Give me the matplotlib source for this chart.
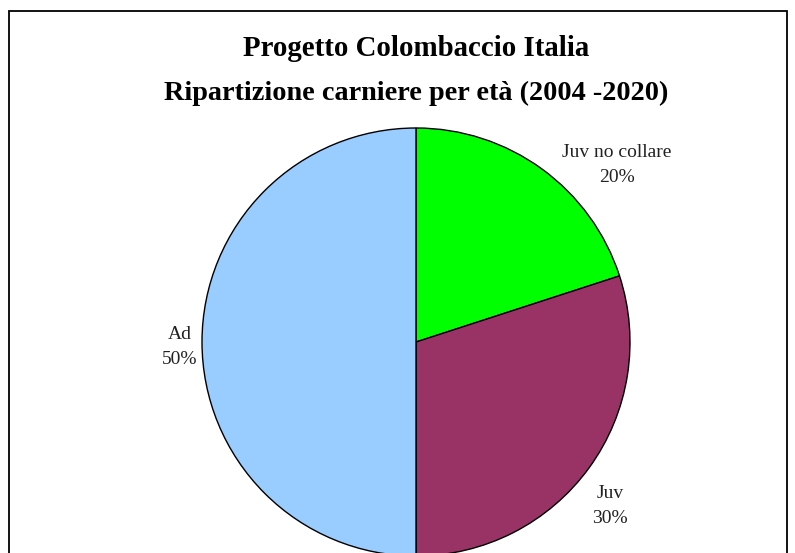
import matplotlib
matplotlib.use("Agg")
import matplotlib.pyplot as plt
from matplotlib.patches import Rectangle

categories = ["Juv no collare", "Juv", "Ad"]
values = [20, 30, 50]
colors = ["#00FF00", "#993366", "#99CCFF"]
title_lines = ["Progetto Colombaccio Italia", "Ripartizione carniere per età (2004 -2020)"]

W, H = 795, 553
fig = plt.figure(figsize=(W / 100, H / 100), dpi=100)
ax = fig.add_axes([0, 0, 1, 1])

cx, cy, r = 416, H - 342, 214
ax.pie(values, colors=colors, startangle=90, counterclock=False,
       center=(cx, cy), radius=r, frame=True,
       wedgeprops=dict(edgecolor="black", linewidth=1.0))
ax.set_xlim(0, W)
ax.set_ylim(0, H)
ax.set_aspect("equal")
ax.axis("off")

serif = ["Liberation Serif", "DejaVu Serif"]
label_pos = {"Juv no collare": (617, 165), "Juv": (610, 506), "Ad": (180, 347)}
for cat, v in zip(categories, values):
    x, y = label_pos[cat]
    ax.text(x, H - y, f"{cat}\n{v}%", ha="center", va="center",
            fontsize=14, family=serif, color="#222222", linespacing=1.55)

fig.text(416 / W, 1 - 49 / H, title_lines[0], ha="center", va="center",
         fontsize=20.8, fontweight="bold", family=serif)
fig.text(416 / W, 1 - 93 / H, title_lines[1], ha="center", va="center",
         fontsize=20.3, fontweight="bold", family=serif)

rect = Rectangle((9 / W, -0.1), (787 - 9) / W, (H - 11) / H + 0.1,
                 transform=fig.transFigure, fill=False, edgecolor="black",
                 linewidth=1.3, clip_on=False)
fig.patches.append(rect)

fig.savefig("out.png", dpi=100)
